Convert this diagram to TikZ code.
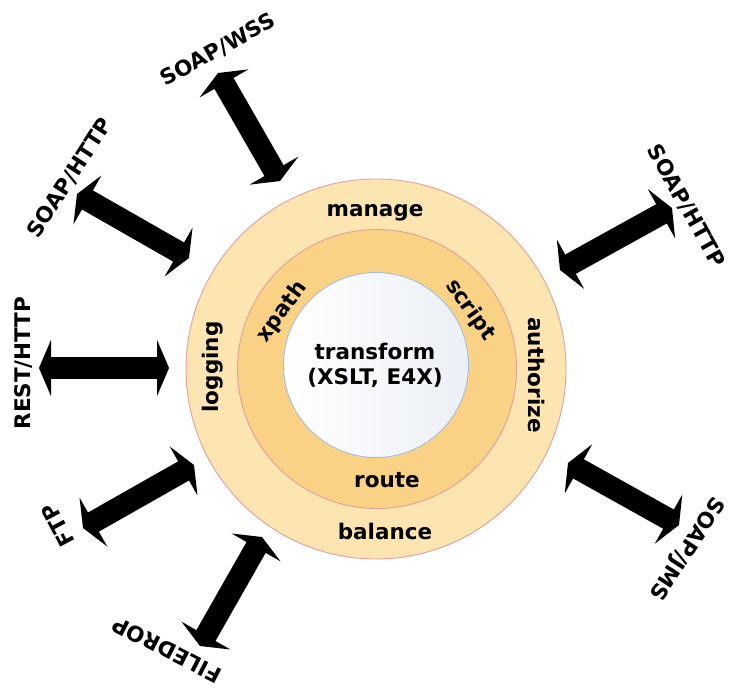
\documentclass[tikz,border=0pt]{standalone}
\usepackage{fontspec}
\setmainfont{DejaVu Sans}
\usetikzlibrary{arrows.meta}
\definecolor{ringouter}{HTML}{FCE5B0}
\definecolor{ringmid}{HTML}{F9D285}
\definecolor{ringline}{HTML}{E0A09E}
\definecolor{coreline}{HTML}{A3BEDD}
\definecolor{coreright}{HTML}{EBEFF6}
\begin{document}
\begin{tikzpicture}[x=1pt,y=-1pt,
  lbl/.style={font=\fontsize{21.5}{25}\selectfont\bfseries, inner sep=0pt, align=center},
  ring/.style={circle, inner sep=0pt, draw=ringline, line width=0.9pt},
  dbl/.style={line width=22pt, {Triangle[length=12pt,width=56pt]}-{Triangle[length=12pt,width=56pt]}}]
\useasboundingbox (0,0) rectangle (729,689);
% rings
\node[ring, fill=ringouter, minimum size=380pt] (outer) at (376,369) {};
\node[ring, fill=ringmid, minimum size=279pt] (mid) at (377,369) {};
\node[circle, inner sep=0pt, draw=coreline, line width=0.9pt, left color=white, right color=coreright, minimum size=185pt] (core) at (376,365) {};
% ring texts
\node[lbl] (transform) at (375,365) {transform\\(XSLT, E4X)};
\node[lbl] (manage) at (375,213) {manage};
\node[lbl] (balance) at (385,531) {balance};
\node[lbl] (route) at (387,480) {route};
\node[lbl, rotate=90] (logging) at (213,367) {logging};
\node[lbl, rotate=-90] (authorize) at (537,375) {authorize};
\node[lbl, rotate=54] (xpath) at (282,312) {xpath};
\node[lbl, rotate=-55] (script) at (470,310) {script};
% arrow ends
\coordinate (wssA) at (218,73);   \coordinate (wssB) at (280,181);
\coordinate (httpLA) at (77,194); \coordinate (httpLB) at (189,258);
\coordinate (restA) at (39,368);  \coordinate (restB) at (169,368);
\coordinate (ftpA) at (83,528);   \coordinate (ftpB) at (194,465);
\coordinate (fdA) at (200,646);   \coordinate (fdB) at (262,537);
\coordinate (httpRA) at (560,270);\coordinate (httpRB) at (672,208);
\coordinate (jmsA) at (568,463);  \coordinate (jmsB) at (679,525);
\draw[dbl] (wssA) -- (wssB);
\draw[dbl] (httpLA) -- (httpLB);
\draw[dbl] (restA) -- (restB);
\draw[dbl] (ftpA) -- (ftpB);
\draw[dbl] (fdA) -- (fdB);
\draw[dbl] (httpRA) -- (httpRB);
\draw[dbl] (jmsA) -- (jmsB);
% outer labels
\node[lbl, rotate=29] (wss) at (218,50) {SOAP/WSS};
\node[lbl, rotate=57] (httpL) at (70,178) {SOAP/HTTP};
\node[lbl, rotate=90] (rest) at (24,363) {REST/HTTP};
\node[lbl, rotate=118] (ftp) at (58,525) {FTP};
\node[lbl, rotate=153] (fd) at (167,650) {FILEDROP};
\node[lbl, rotate=-61] (httpR) at (686,206) {SOAP/HTTP};
\node[lbl, rotate=-123] (jms) at (686,548) {SOAP/JMS};
\end{tikzpicture}
\end{document}
